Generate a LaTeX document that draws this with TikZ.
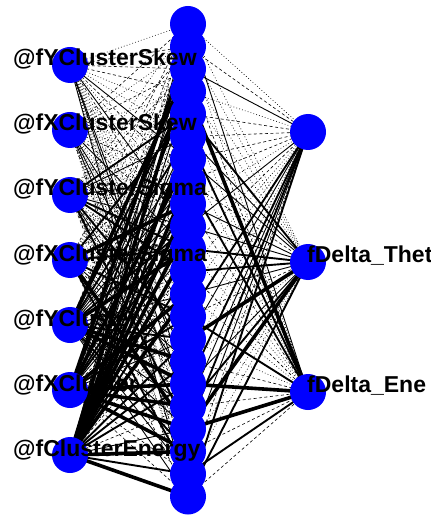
\documentclass[tikz,border=0pt]{standalone}
\usepackage{fontspec}
\setmainfont{Liberation Sans}
\usetikzlibrary{backgrounds}
\tikzset{
  neuron/.style={circle, fill=blue, minimum size=36pt, inner sep=0pt},
  vname/.style={font=\fontsize{23}{24}\selectfont\bfseries, text=black,
    inner sep=0pt, anchor=base west},
  wt0/.style={line width=0.6pt, dash pattern=on 0.8pt off 2.2pt},
  wt1/.style={line width=0.6pt, dash pattern=on 3pt off 2.5pt},
  wt2/.style={line width=0.9pt},
  wt3/.style={line width=1.9pt},
  wt4/.style={line width=3.6pt},
}
\begin{document}
\begin{tikzpicture}[x=1pt, y=-1pt]
  \useasboundingbox (0,0) rectangle (430,518);
  \clip (0,0) rectangle (430,518);
  % layers
  \foreach \i in {1,...,7}
    \node[neuron] (in\i) at (70, 65*\i) {};
  \foreach \j in {1,...,22}
    \node[neuron] (hid\j) at (188, 24+22.5*\j-22.5) {};
  \foreach \k in {1,2,3}
    \node[neuron] (out\k) at (308, 130*\k+2) {};
  % variable names
  \foreach \i/\txt in {1/@fYClusterSkew, 2/@fXClusterSkew, 3/@fYClusterSigma,
      4/@fXClusterSigma, 5/@fYCluster, 6/@fXCluster, 7/@fClusterEnergy}
    \node[vname] (lab\i) at (13, 65*\i+1) {\txt};
  \node[vname] (lab8) at (307, 262) {fDelta\_Thet};
  \node[vname] (lab9) at (307, 392) {fDelta\_Ene};
  % synapses
  \begin{pgfonlayer}{background}
    \fill[white] (0,0) rectangle (430,518);
    \pgfmathsetseed{4213}
    \foreach \i in {1,...,7}
      \foreach \j in {1,...,22} {
        \pgfmathtruncatemacro\w{min(4,max(0,floor(4.6*rnd+0.45*(\i-5))))}
        \draw[wt\w] (in\i.center) -- (hid\j.center);
      }
    \foreach \j in {1,...,22}
      \foreach \k in {1,2,3} {
        \pgfmathtruncatemacro\w{min(4,max(0,floor(4.6*rnd-0.3)))}
        \draw[wt\w] (hid\j.center) -- (out\k.center);
      }
  \end{pgfonlayer}
\end{tikzpicture}
\end{document}
